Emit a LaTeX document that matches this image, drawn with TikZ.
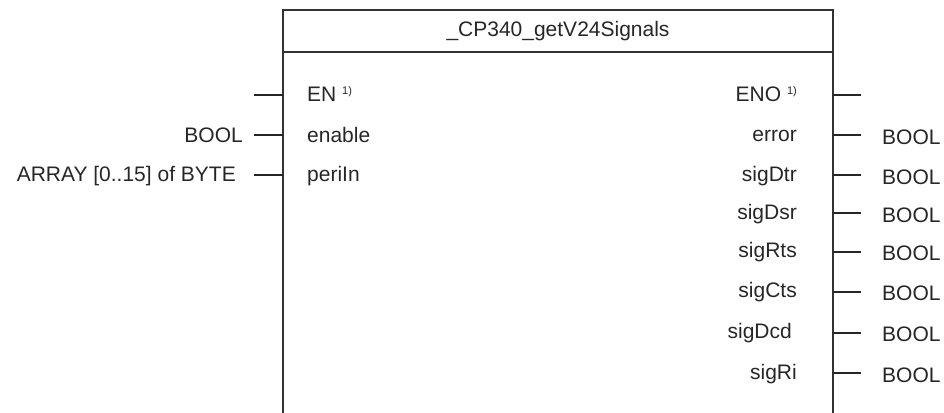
\documentclass[tikz,border=0pt]{standalone}
\usepackage{fontspec}
\setmainfont{Liberation Sans}
\tikzset{
  boxline/.style={draw=black!80, line width=1.6pt},
  stub/.style={draw=black!85, line width=1.5pt},
  lbl/.style={font=\fontsize{21}{24}\selectfont, text=black!85, inner sep=0pt, text height=15pt, text depth=5pt},
}
\newcommand{\fn}{\ {\fontsize{11}{12}\selectfont\raisebox{7pt}{1)}}}
\begin{document}
\begin{tikzpicture}[x=1pt,y=-1pt]
\useasboundingbox (0,0) rectangle (944,412);
% block
\coordinate (bl) at (283,413);
\coordinate (tl) at (283,10);
\coordinate (tr) at (833,10);
\coordinate (br) at (833,413);
\coordinate (hl) at (283,52);
\coordinate (hr) at (833,52);
\draw[boxline] (bl) -- (tl) -- (tr) -- (br);
\draw[boxline] (hl) -- (hr);
\node[lbl] (title) at (558,32) {\_CP340\_getV24Signals};
% left pins
\node[lbl, anchor=west] (en) at (307,96) {EN\fn};
\node[lbl, anchor=west] (enable) at (307,137) {enable};
\node[lbl, anchor=west] (periin) at (307,176) {periIn};
\node[lbl, anchor=east] (tenable) at (243,137) {BOOL};
\node[lbl, anchor=east] (tperiin) at (236,176) {ARRAY [0..15] of BYTE};
\foreach \n/\y in {en/95, enable/135, periin/175}{
  \coordinate (ls\n) at (254,\y);
  \coordinate (le\n) at (283,\y);
  \draw[stub] (ls\n) -- (le\n);
}
% right pins
\node[lbl, anchor=east] (eno) at (797,96) {ENO\fn};
\foreach \n/\t/\x/\y in {error/error/797/136, sigdtr/sigDtr/797/176, sigdsr/sigDsr/797/214, sigrts/sigRts/797/252, sigcts/sigCts/797/292, sigdcd/sigDcd/792/333, sigri/sigRi/797/374}{
  \node[lbl, anchor=east] (\n) at (\x,\y) {\t};
  \node[lbl, anchor=west] (t\n) at (882,\y+3) {BOOL};
}
\draw[stub] (833,95) coordinate (rseno) -- (861,95) coordinate (reeno);
\foreach \n/\y in {error/135, sigdtr/175, sigdsr/213, sigrts/252, sigcts/292, sigdcd/333, sigri/373}{
  \coordinate (rs\n) at (833,\y);
  \coordinate (re\n) at (861,\y);
  \draw[stub] (rs\n) -- (re\n);
}
\end{tikzpicture}
\end{document}
